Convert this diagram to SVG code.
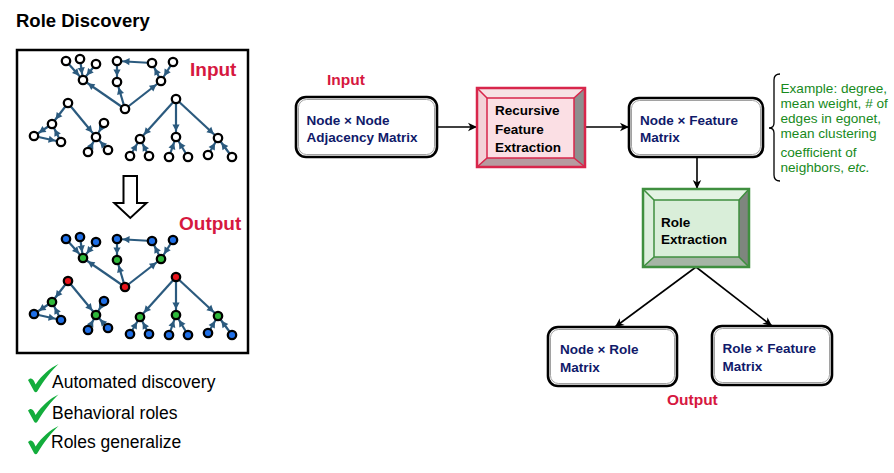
<svg xmlns="http://www.w3.org/2000/svg" width="894" height="473" viewBox="0 0 894 473">
<defs>
<style>
text{font-family:"Liberation Sans",Arial,sans-serif}
.ttl{font-size:18.5px;font-weight:bold;fill:#000}
.red{font-weight:bold;fill:#d6183f}
.chk{font-size:17.5px;fill:#000}
.bx{font-size:13.5px;font-weight:bold;fill:#101a6a}
.bb{font-size:13.5px;font-weight:bold;fill:#000}
.ex{font-size:13.6px;fill:#178a1c}
.ge{stroke:#2b5a7e;stroke-width:2.2;fill:none;marker-end:url(#ga)}
.fe{stroke:#000;stroke-width:1.6;fill:none;marker-end:url(#fa)}
.gn circle{r:4.2px;stroke:#000;stroke-width:2.3}
.w{fill:#fff}.b{fill:#1f6fe6}.g{fill:#2fb83a}.r{fill:#e8141b}
.box{fill:#fff;stroke:#000;stroke-width:2.6}
.boxi{fill:none;stroke:#8a8a8a;stroke-width:0.8}
.cm{fill:#13ad3c}
</style>
<marker id="ga" markerUnits="userSpaceOnUse" orient="auto" overflow="visible" refX="0" refY="0" markerWidth="12" markerHeight="8">
<path d="M-12.5,-3.6 L-5.8,0 L-12.5,3.6 z" fill="#2b5a7e"/>
</marker>
<marker id="fa" markerUnits="userSpaceOnUse" orient="auto" overflow="visible" refX="0" refY="0" markerWidth="10" markerHeight="10">
<path d="M-9,-4.2 L0,0 L-9,4.2 L-6.5,0 z" fill="#000"/>
</marker>
<g id="edges">
<line x1="66" y1="61" x2="83" y2="80"/>
<line x1="80" y1="59" x2="83" y2="80"/>
<line x1="96" y1="64" x2="83" y2="80"/>
<line x1="125" y1="109" x2="83" y2="80"/>
<line x1="125" y1="109" x2="117" y2="82"/>
<line x1="117" y1="61" x2="117" y2="82"/>
<line x1="152" y1="63" x2="117" y2="61"/>
<line x1="161" y1="81" x2="152" y2="63"/>
<line x1="173" y1="62" x2="161" y2="81"/>
<line x1="125" y1="109" x2="161" y2="81"/>
<line x1="68" y1="103" x2="52" y2="124"/>
<line x1="52" y1="124" x2="34" y2="136"/>
<line x1="34" y1="136" x2="61" y2="142"/>
<line x1="61" y1="142" x2="52" y2="124"/>
<line x1="68" y1="103" x2="96" y2="137"/>
<line x1="104" y1="123" x2="96" y2="137"/>
<line x1="88" y1="152" x2="96" y2="137"/>
<line x1="108" y1="150" x2="96" y2="137"/>
<line x1="176" y1="99" x2="140" y2="139"/>
<line x1="176" y1="99" x2="176" y2="137"/>
<line x1="176" y1="99" x2="218" y2="138"/>
<line x1="130" y1="156" x2="140" y2="139"/>
<line x1="149" y1="156" x2="140" y2="139"/>
<line x1="169" y1="157" x2="176" y2="137"/>
<line x1="188" y1="157" x2="176" y2="137"/>
<line x1="208" y1="155" x2="218" y2="138"/>
<line x1="232" y1="157" x2="218" y2="138"/>
</g>
</defs>

<text class="ttl" x="16" y="27">Role Discovery</text>

<g id="role-panel">
<rect x="17" y="50" width="231" height="303" fill="#fff" stroke="#000" stroke-width="2.5"/>
<text class="red" x="190" y="76" font-size="19">Input</text>
<text class="red" x="179" y="230" font-size="19">Output</text>
<path d="M123.5,176 L137,176 L137,203 L146.5,203 L130.3,218 L114.3,203 L123.5,203 Z" fill="#fff" stroke="#000" stroke-width="2"/>
</g>

<g id="connectors">
<g id="graph-in-edges" class="ge"><use href="#edges"/></g>
<g id="graph-out-edges" class="ge" transform="translate(0,178)"><use href="#edges"/></g>
<line class="fe" x1="437" y1="127" x2="477" y2="127"/>
<line class="fe" x1="585" y1="127" x2="629" y2="127"/>
<line class="fe" x1="697" y1="157" x2="697" y2="189"/>
<line class="fe" x1="696" y1="267" x2="615" y2="327"/>
<line class="fe" x1="696" y1="267" x2="772" y2="326"/>
</g>

<g id="graph-input" class="gn">
<circle class="w" cx="66" cy="61"/><circle class="w" cx="80" cy="59"/><circle class="w" cx="96" cy="64"/><circle class="w" cx="83" cy="80"/>
<circle class="w" cx="117" cy="61"/><circle class="w" cx="152" cy="63"/><circle class="w" cx="173" cy="62"/><circle class="w" cx="117" cy="82"/><circle class="w" cx="161" cy="81"/>
<circle class="w" cx="125" cy="109"/>
<circle class="w" cx="68" cy="103"/><circle class="w" cx="52" cy="124"/><circle class="w" cx="34" cy="136"/><circle class="w" cx="61" cy="142"/>
<circle class="w" cx="96" cy="137"/><circle class="w" cx="104" cy="123"/><circle class="w" cx="88" cy="152"/><circle class="w" cx="108" cy="150"/>
<circle class="w" cx="176" cy="99"/><circle class="w" cx="140" cy="139"/><circle class="w" cx="176" cy="137"/><circle class="w" cx="218" cy="138"/>
<circle class="w" cx="130" cy="156"/><circle class="w" cx="149" cy="156"/><circle class="w" cx="169" cy="157"/><circle class="w" cx="188" cy="157"/><circle class="w" cx="208" cy="155"/><circle class="w" cx="232" cy="157"/>
</g>

<g id="graph-output" class="gn" transform="translate(0,178)">
<circle class="b" cx="66" cy="61"/><circle class="b" cx="80" cy="59"/><circle class="b" cx="96" cy="64"/><circle class="g" cx="83" cy="80"/>
<circle class="b" cx="117" cy="61"/><circle class="b" cx="152" cy="63"/><circle class="b" cx="173" cy="62"/><circle class="g" cx="117" cy="82"/><circle class="g" cx="161" cy="81"/>
<circle class="r" cx="125" cy="109"/>
<circle class="r" cx="68" cy="103"/><circle class="g" cx="52" cy="124"/><circle class="b" cx="34" cy="136"/><circle class="b" cx="61" cy="142"/>
<circle class="g" cx="96" cy="137"/><circle class="b" cx="104" cy="123"/><circle class="b" cx="88" cy="152"/><circle class="b" cx="108" cy="150"/>
<circle class="r" cx="176" cy="99"/><circle class="g" cx="140" cy="139"/><circle class="g" cx="176" cy="137"/><circle class="g" cx="218" cy="138"/>
<circle class="b" cx="130" cy="156"/><circle class="b" cx="149" cy="156"/><circle class="b" cx="169" cy="157"/><circle class="b" cx="188" cy="157"/><circle class="b" cx="208" cy="155"/><circle class="b" cx="232" cy="157"/>
</g>

<g id="checklist">
<g id="check1"><path class="cm" d="M28,380 C30,377.5 32.5,378 34,381 L35.6,384.5 C42,375 50,368 58.5,364 C52,370 44,380 37.5,391 C36.5,392.8 35,392.8 34,391 Z"/><text class="chk" x="52" y="388">Automated discovery</text></g>
<g id="check2" transform="translate(0,30.5)"><path class="cm" d="M28,380 C30,377.5 32.5,378 34,381 L35.6,384.5 C42,375 50,368 58.5,364 C52,370 44,380 37.5,391 C36.5,392.8 35,392.8 34,391 Z"/><text class="chk" x="52" y="388">Behavioral roles</text></g>
<g id="check3" transform="translate(0,62)"><path class="cm" d="M28,380 C30,377.5 32.5,378 34,381 L35.6,384.5 C42,375 50,368 58.5,364 C52,370 44,380 37.5,391 C36.5,392.8 35,392.8 34,391 Z"/><text class="chk" x="51" y="386">Roles generalize</text></g>
</g>

<text id="input-label" class="red" x="327" y="85" font-size="15.5">Input</text>

<g id="node-adjacency">
<rect class="box" x="296" y="97" width="141" height="60" rx="10"/>
<rect class="boxi" x="298.5" y="99.5" width="136" height="55" rx="8"/>
<text class="bx" x="306.5" y="124.5">Node × Node</text>
<text class="bx" x="306.5" y="141.5">Adjacency Matrix</text>
</g>

<g id="recursive-feature-extraction">
<rect x="477" y="88" width="108" height="79" fill="#f8d7dd"/>
<polygon points="477,88 585,88 574,98 487,98" fill="#f6e2e5"/>
<polygon points="477,88 487,98 487,158 477,167" fill="#f3d2d8"/>
<polygon points="585,88 585,167 574,158 574,98" fill="#8e8e8e"/>
<polygon points="477,167 585,167 574,158 487,158" fill="#b79ba0"/>
<rect x="487" y="98" width="87" height="60" fill="#fbdfe4" stroke="#d8264b" stroke-width="1.5"/>
<path d="M477,88 L487,98 M585,88 L574,98 M585,167 L574,158 M477,167 L487,158" stroke="#d8264b" stroke-width="1.5"/>
<rect x="477" y="88" width="108" height="79" fill="none" stroke="#d8264b" stroke-width="2.5"/>
<text class="bb" x="495" y="115">Recursive</text>
<text class="bb" x="495" y="133.5">Feature</text>
<text class="bb" x="495" y="152">Extraction</text>
</g>

<g id="node-feature">
<rect class="box" x="629" y="98" width="134" height="59" rx="10"/>
<rect class="boxi" x="631.5" y="100.5" width="129" height="54" rx="8"/>
<text class="bx" x="640" y="124.5">Node × Feature</text>
<text class="bx" x="640" y="141.5">Matrix</text>
</g>

<g id="feature-examples">
<path d="M780,74 Q774,74 774,80 L774,123 Q774,128 769,128 Q774,128 774,133 L774,175 Q774,181 780,181" fill="none" stroke="#000" stroke-width="1.3"/>
<text class="ex" x="780.5" y="93">Example: degree,</text>
<text class="ex" x="780.5" y="108">mean weight, # of</text>
<text class="ex" x="780.5" y="123">edges in egonet,</text>
<text class="ex" x="780.5" y="138">mean clustering</text>
<text class="ex" x="780.5" y="157">coefficient of</text>
<text class="ex" x="780.5" y="172">neighbors, <tspan font-style="italic">etc.</tspan></text>
</g>

<g id="role-extraction">
<rect x="643" y="189" width="106" height="78" fill="#d8eed8"/>
<polygon points="643,189 749,189 739,200 654,200" fill="#e4f3e4"/>
<polygon points="643,189 654,200 654,257 643,267" fill="#ddefdd"/>
<polygon points="749,189 749,267 739,257 739,200" fill="#7e867e"/>
<polygon points="643,267 749,267 739,257 654,257" fill="#a5b5a5"/>
<rect x="654" y="200" width="85" height="57" fill="#d9eed9" stroke="#3f8f3f" stroke-width="1.5"/>
<path d="M643,189 L654,200 M749,189 L739,200 M749,267 L739,257 M643,267 L654,257" stroke="#3f8f3f" stroke-width="1.5"/>
<rect x="643" y="189" width="106" height="78" fill="none" stroke="#3f8f3f" stroke-width="2.5"/>
<text class="bb" x="661" y="226.5">Role</text>
<text class="bb" x="661" y="243.5">Extraction</text>
</g>

<g id="node-role">
<rect class="box" x="548" y="327" width="129" height="59" rx="10"/>
<rect class="boxi" x="550.5" y="329.5" width="124" height="54" rx="8"/>
<text class="bx" x="560" y="354">Node × Role</text>
<text class="bx" x="560" y="371.5">Matrix</text>
</g>

<g id="role-feature">
<rect class="box" x="712" y="326" width="120" height="59" rx="10"/>
<rect class="boxi" x="714.5" y="328.5" width="115" height="54" rx="8"/>
<text class="bx" x="722.5" y="352.5">Role × Feature</text>
<text class="bx" x="722.5" y="370.5">Matrix</text>
</g>

<text id="output-label" class="red" x="667" y="404.5" font-size="15.5">Output</text>
</svg>
